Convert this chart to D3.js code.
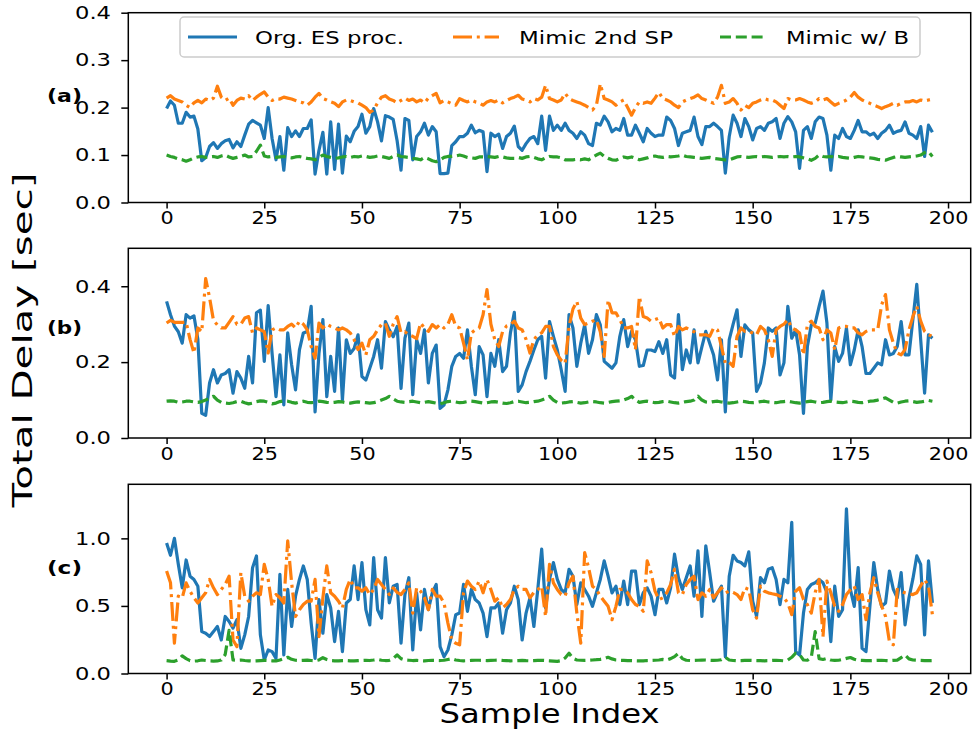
<!DOCTYPE html>
<html>
<head>
<meta charset="utf-8">
<script src="https://cdn.jsdelivr.net/npm/d3@7"></script>
<style>
  body { margin: 0; background: #fff; }
  svg { display: block; }
</style>
</head>
<body>
<div id="chart"></div>
<script>
// series values, one value per sample index (0..196)
const orgA = [
  0.198, 0.214, 0.205, 0.167, 0.167, 0.190, 0.180, 0.182, 0.155, 0.088,
  0.095, 0.118, 0.126, 0.114, 0.124, 0.130, 0.133, 0.115, 0.128, 0.118,
  0.142, 0.165, 0.173, 0.168, 0.163, 0.135, 0.200, 0.135, 0.090, 0.139,
  0.068, 0.158, 0.139, 0.151, 0.139, 0.156, 0.156, 0.174, 0.060, 0.110,
  0.148, 0.060, 0.170, 0.070, 0.165, 0.062, 0.140, 0.128, 0.150, 0.160,
  0.186, 0.146, 0.160, 0.198, 0.170, 0.130, 0.183, 0.180, 0.175, 0.130,
  0.068, 0.177, 0.173, 0.090, 0.139, 0.149, 0.167, 0.142, 0.160, 0.149,
  0.061, 0.061, 0.062, 0.120, 0.128, 0.139, 0.139, 0.146, 0.163, 0.147,
  0.152, 0.149, 0.065, 0.146, 0.139, 0.144, 0.114, 0.139, 0.146, 0.161,
  0.118, 0.110, 0.124, 0.135, 0.139, 0.124, 0.182, 0.110, 0.182, 0.152,
  0.163, 0.152, 0.167, 0.152, 0.146, 0.135, 0.149, 0.142, 0.124, 0.120,
  0.167, 0.163, 0.182, 0.170, 0.149, 0.156, 0.152, 0.177, 0.142, 0.142,
  0.163, 0.146, 0.128, 0.156, 0.146, 0.139, 0.142, 0.142, 0.180, 0.173,
  0.156, 0.120, 0.146, 0.149, 0.152, 0.180, 0.139, 0.122, 0.160, 0.160,
  0.167, 0.160, 0.152, 0.062, 0.139, 0.184, 0.167, 0.139, 0.177, 0.160,
  0.132, 0.156, 0.160, 0.152, 0.167, 0.170, 0.177, 0.135, 0.167, 0.181,
  0.170, 0.149, 0.072, 0.152, 0.160, 0.135, 0.170, 0.180, 0.177, 0.142,
  0.068, 0.142, 0.135, 0.156, 0.139, 0.135, 0.152, 0.173, 0.149, 0.149,
  0.142, 0.146, 0.135, 0.146, 0.152, 0.163, 0.146, 0.150, 0.152, 0.170,
  0.146, 0.142, 0.135, 0.160, 0.097, 0.163, 0.148
];
const mimic2ndA = [
  0.220, 0.225, 0.218, 0.215, 0.212, 0.205, 0.200, 0.210, 0.215, 0.210,
  0.218, 0.215, 0.220, 0.245, 0.222, 0.215, 0.220, 0.205, 0.215, 0.220,
  0.218, 0.225, 0.215, 0.222, 0.228, 0.233, 0.222, 0.215, 0.219, 0.218,
  0.222, 0.220, 0.218, 0.215, 0.212, 0.210, 0.205, 0.212, 0.222, 0.230,
  0.219, 0.216, 0.212, 0.209, 0.202, 0.212, 0.216, 0.215, 0.212, 0.210,
  0.205, 0.200, 0.190, 0.195, 0.210, 0.222, 0.225, 0.218, 0.215, 0.210,
  0.215, 0.220, 0.215, 0.218, 0.212, 0.216, 0.210, 0.220, 0.225, 0.230,
  0.210, 0.215, 0.212, 0.208, 0.205, 0.219, 0.215, 0.212, 0.216, 0.212,
  0.210, 0.205, 0.212, 0.215, 0.212, 0.216, 0.210, 0.215, 0.219, 0.222,
  0.226, 0.218, 0.216, 0.212, 0.219, 0.216, 0.222, 0.247, 0.219, 0.216,
  0.212, 0.216, 0.230, 0.219, 0.215, 0.212, 0.209, 0.205, 0.200, 0.195,
  0.205, 0.250, 0.219, 0.216, 0.212, 0.205, 0.212, 0.216, 0.200, 0.184,
  0.200, 0.212, 0.209, 0.212, 0.209, 0.220, 0.232, 0.219, 0.216, 0.212,
  0.205, 0.200, 0.212, 0.216, 0.219, 0.222, 0.227, 0.219, 0.216, 0.212,
  0.209, 0.222, 0.247, 0.209, 0.212, 0.219, 0.209, 0.195, 0.205, 0.200,
  0.209, 0.212, 0.216, 0.219, 0.216, 0.216, 0.212, 0.205, 0.198, 0.219,
  0.216, 0.216, 0.219, 0.216, 0.212, 0.209, 0.212, 0.219, 0.216, 0.219,
  0.212, 0.205, 0.209, 0.212, 0.216, 0.222, 0.232, 0.222, 0.216, 0.212,
  0.209, 0.205, 0.202, 0.198, 0.202, 0.205, 0.209, 0.205, 0.209, 0.212,
  0.212, 0.215, 0.212, 0.216, 0.214, 0.216, 0.218
];
const mimicBA = [
  0.100, 0.097, 0.095, 0.092, 0.090, 0.087, 0.090, 0.094, 0.096, 0.097,
  0.095, 0.096, 0.097, 0.095, 0.098, 0.100, 0.096, 0.093, 0.095, 0.097,
  0.100, 0.096, 0.097, 0.108, 0.121, 0.098, 0.096, 0.097, 0.095, 0.096,
  0.097, 0.095, 0.094, 0.096, 0.097, 0.095, 0.093, 0.092, 0.090, 0.095,
  0.100, 0.097, 0.095, 0.093, 0.094, 0.096, 0.097, 0.095, 0.097, 0.096,
  0.098, 0.097, 0.095, 0.096, 0.098, 0.097, 0.095, 0.093, 0.097, 0.100,
  0.097, 0.096, 0.095, 0.093, 0.092, 0.090, 0.095, 0.092, 0.088, 0.086,
  0.090, 0.095, 0.097, 0.097, 0.098, 0.100, 0.098, 0.095, 0.094, 0.093,
  0.096, 0.096, 0.097, 0.096, 0.095, 0.097, 0.096, 0.094, 0.093, 0.093,
  0.095, 0.093, 0.096, 0.097, 0.095, 0.092, 0.090, 0.094, 0.097, 0.096,
  0.096, 0.094, 0.090, 0.090, 0.090, 0.091, 0.090, 0.092, 0.090, 0.095,
  0.100, 0.104, 0.097, 0.093, 0.090, 0.089, 0.093, 0.096, 0.094, 0.096,
  0.093, 0.090, 0.092, 0.094, 0.097, 0.098, 0.096, 0.095, 0.097, 0.096,
  0.097, 0.098, 0.100, 0.097, 0.096, 0.095, 0.094, 0.093, 0.094, 0.095,
  0.093, 0.092, 0.091, 0.090, 0.090, 0.093, 0.096, 0.097, 0.096, 0.095,
  0.096, 0.097, 0.096, 0.097, 0.096, 0.095, 0.096, 0.097, 0.096, 0.097,
  0.096, 0.097, 0.096, 0.094, 0.092, 0.089, 0.093, 0.100, 0.097, 0.096,
  0.097, 0.096, 0.097, 0.095, 0.094, 0.093, 0.095, 0.097, 0.096, 0.095,
  0.094, 0.093, 0.091, 0.090, 0.089, 0.092, 0.095, 0.097, 0.096, 0.095,
  0.096, 0.097, 0.098, 0.100, 0.105, 0.107, 0.097
];
const orgB = [
  0.360, 0.325, 0.295, 0.280, 0.250, 0.325, 0.316, 0.322, 0.260, 0.065,
  0.060, 0.145, 0.180, 0.145, 0.166, 0.170, 0.180, 0.118, 0.175, 0.158,
  0.131, 0.215, 0.145, 0.330, 0.337, 0.202, 0.349, 0.223, 0.109, 0.219,
  0.087, 0.277, 0.193, 0.127, 0.232, 0.277, 0.281, 0.347, 0.069, 0.223,
  0.312, 0.109, 0.215, 0.123, 0.290, 0.100, 0.259, 0.223, 0.236, 0.272,
  0.162, 0.153, 0.184, 0.215, 0.259, 0.184, 0.307, 0.285, 0.267, 0.294,
  0.131, 0.263, 0.303, 0.114, 0.259, 0.223, 0.285, 0.145, 0.223, 0.245,
  0.078, 0.087, 0.127, 0.189, 0.215, 0.223, 0.210, 0.285, 0.189, 0.114,
  0.241, 0.219, 0.109, 0.223, 0.189, 0.259, 0.175, 0.189, 0.277, 0.331,
  0.123, 0.140, 0.175, 0.202, 0.232, 0.259, 0.268, 0.158, 0.307, 0.268,
  0.232, 0.180, 0.123, 0.325, 0.290, 0.189, 0.250, 0.298, 0.223, 0.259,
  0.325, 0.298, 0.202, 0.193, 0.184, 0.198, 0.268, 0.312, 0.241, 0.281,
  0.259, 0.189, 0.191, 0.232, 0.232, 0.228, 0.254, 0.223, 0.259, 0.166,
  0.158, 0.325, 0.180, 0.232, 0.198, 0.285, 0.198, 0.240, 0.281, 0.250,
  0.219, 0.153, 0.259, 0.069, 0.259, 0.300, 0.338, 0.215, 0.298, 0.285,
  0.277, 0.123, 0.145, 0.198, 0.290, 0.281, 0.290, 0.166, 0.198, 0.347,
  0.263, 0.285, 0.219, 0.065, 0.241, 0.298, 0.303, 0.347, 0.387, 0.303,
  0.100, 0.241, 0.202, 0.223, 0.290, 0.193, 0.232, 0.285, 0.241, 0.170,
  0.170, 0.184, 0.198, 0.193, 0.259, 0.219, 0.223, 0.241, 0.307, 0.219,
  0.219, 0.312, 0.405, 0.259, 0.118, 0.272, 0.263
];
const mimic2ndB = [
  0.303, 0.310, 0.305, 0.305, 0.305, 0.305, 0.260, 0.224, 0.290, 0.280,
  0.420, 0.370, 0.310, 0.298, 0.290, 0.290, 0.305, 0.320, 0.300, 0.300,
  0.316, 0.320, 0.277, 0.290, 0.285, 0.280, 0.224, 0.285, 0.290, 0.285,
  0.285, 0.294, 0.300, 0.290, 0.308, 0.300, 0.285, 0.241, 0.210, 0.303,
  0.290, 0.300, 0.294, 0.290, 0.285, 0.290, 0.285, 0.277, 0.259, 0.233,
  0.250, 0.219, 0.259, 0.268, 0.285, 0.299, 0.303, 0.268, 0.300, 0.320,
  0.277, 0.280, 0.272, 0.268, 0.262, 0.303, 0.290, 0.281, 0.299, 0.290,
  0.299, 0.290, 0.300, 0.325, 0.294, 0.290, 0.250, 0.206, 0.277, 0.285,
  0.290, 0.325, 0.391, 0.300, 0.259, 0.241, 0.281, 0.295, 0.299, 0.308,
  0.290, 0.285, 0.260, 0.224, 0.259, 0.272, 0.277, 0.294, 0.294, 0.241,
  0.219, 0.205, 0.197, 0.294, 0.340, 0.360, 0.316, 0.299, 0.303, 0.308,
  0.312, 0.280, 0.215, 0.364, 0.330, 0.330, 0.312, 0.290, 0.290, 0.294,
  0.233, 0.373, 0.320, 0.316, 0.308, 0.312, 0.316, 0.290, 0.299, 0.299,
  0.268, 0.294, 0.285, 0.290, 0.285, 0.280, 0.272, 0.272, 0.272, 0.268,
  0.290, 0.285, 0.241, 0.197, 0.200, 0.189, 0.268, 0.290, 0.281, 0.281,
  0.277, 0.272, 0.294, 0.285, 0.259, 0.215, 0.285, 0.294, 0.300, 0.312,
  0.290, 0.285, 0.277, 0.219, 0.299, 0.308, 0.294, 0.290, 0.259, 0.285,
  0.277, 0.233, 0.290, 0.294, 0.294, 0.290, 0.290, 0.277, 0.272, 0.281,
  0.285, 0.285, 0.285, 0.351, 0.378, 0.285, 0.250, 0.224, 0.219, 0.233,
  0.285, 0.320, 0.347, 0.308, 0.281, 0.272, 0.268
];
const mimicBB = [
  0.097, 0.098, 0.097, 0.094, 0.095, 0.097, 0.097, 0.095, 0.094, 0.096,
  0.100, 0.105, 0.110, 0.100, 0.094, 0.092, 0.091, 0.093, 0.096, 0.097,
  0.093, 0.090, 0.092, 0.096, 0.098, 0.097, 0.094, 0.090, 0.092, 0.096,
  0.098, 0.097, 0.094, 0.092, 0.095, 0.097, 0.094, 0.093, 0.094, 0.097,
  0.096, 0.094, 0.093, 0.094, 0.096, 0.095, 0.093, 0.092, 0.094, 0.095,
  0.094, 0.093, 0.092, 0.093, 0.096, 0.100, 0.104, 0.110, 0.103, 0.097,
  0.095, 0.094, 0.096, 0.097, 0.095, 0.093, 0.094, 0.096, 0.094, 0.092,
  0.090, 0.093, 0.096, 0.097, 0.095, 0.093, 0.094, 0.096, 0.097, 0.096,
  0.094, 0.092, 0.093, 0.095, 0.096, 0.094, 0.092, 0.091, 0.093, 0.096,
  0.097, 0.095, 0.093, 0.094, 0.096, 0.097, 0.100, 0.104, 0.110, 0.100,
  0.094, 0.092, 0.093, 0.095, 0.096, 0.094, 0.092, 0.093, 0.095, 0.096,
  0.095, 0.093, 0.092, 0.094, 0.096, 0.097, 0.098, 0.100, 0.104, 0.110,
  0.100, 0.094, 0.096, 0.097, 0.095, 0.093, 0.094, 0.096, 0.097, 0.095,
  0.093, 0.092, 0.094, 0.096, 0.097, 0.100, 0.110, 0.100, 0.095, 0.094,
  0.096, 0.097, 0.095, 0.093, 0.092, 0.093, 0.095, 0.097, 0.096, 0.094,
  0.093, 0.094, 0.096, 0.097, 0.095, 0.094, 0.093, 0.095, 0.096, 0.097,
  0.095, 0.093, 0.092, 0.094, 0.096, 0.097, 0.095, 0.093, 0.094, 0.096,
  0.097, 0.095, 0.094, 0.093, 0.095, 0.097, 0.096, 0.094, 0.093, 0.095,
  0.097, 0.098, 0.100, 0.103, 0.106, 0.100, 0.094, 0.092, 0.095, 0.097,
  0.098, 0.096, 0.094, 0.095, 0.097, 0.099, 0.097
];
const orgC = [
  0.965, 0.875, 1.000, 0.808, 0.634, 0.840, 0.720, 0.696, 0.646, 0.310,
  0.298, 0.274, 0.310, 0.348, 0.248, 0.422, 0.385, 0.336, 0.398, 0.186,
  0.286, 0.422, 0.783, 0.870, 0.286, 0.100, 0.174, 0.162, 0.112, 0.734,
  0.137, 0.622, 0.348, 0.572, 0.696, 0.796, 0.696, 0.373, 0.112, 0.547,
  0.298, 0.584, 0.485, 0.236, 0.460, 0.162, 0.522, 0.547, 0.796, 0.547,
  0.820, 0.472, 0.360, 0.857, 0.472, 0.410, 0.857, 0.522, 0.646, 0.659,
  0.224, 0.584, 0.709, 0.174, 0.597, 0.323, 0.622, 0.472, 0.597, 0.659,
  0.199, 0.124, 0.174, 0.286, 0.435, 0.447, 0.659, 0.460, 0.622, 0.547,
  0.522, 0.447, 0.273, 0.485, 0.485, 0.522, 0.298, 0.472, 0.522, 0.646,
  0.547, 0.248, 0.447, 0.560, 0.348, 0.622, 0.920, 0.485, 0.696, 0.820,
  0.696, 0.622, 0.597, 0.771, 0.720, 0.510, 0.671, 0.622, 0.572, 0.497,
  0.597, 0.696, 0.833, 0.720, 0.597, 0.646, 0.510, 0.684, 0.510, 0.758,
  0.758, 0.510, 0.597, 0.634, 0.572, 0.435, 0.622, 0.622, 0.522, 0.634,
  0.883, 0.709, 0.622, 0.709, 0.796, 0.572, 0.907, 0.423, 0.945, 0.746,
  0.535, 0.597, 0.646, 0.124, 0.720, 0.875, 0.833, 0.821, 0.796, 0.900,
  0.535, 0.423, 0.709, 0.671, 0.771, 0.783, 0.696, 0.510, 0.696, 0.671,
  1.119, 0.162, 0.137, 0.447, 0.622, 0.659, 0.671, 0.696, 0.671, 0.600,
  0.236, 0.646, 0.423, 0.472, 1.219, 0.622, 0.497, 0.783, 0.186, 0.162,
  0.497, 0.821, 0.622, 0.497, 0.522, 0.758, 0.622, 0.560, 0.746, 0.360,
  0.560, 0.700, 0.870, 0.808, 0.286, 0.833, 0.522
];
const mimic2ndC = [
  0.758, 0.671, 0.224, 0.572, 0.560, 0.671, 0.609, 0.560, 0.522, 0.560,
  0.597, 0.696, 0.634, 0.584, 0.622, 0.659, 0.720, 0.248, 0.199, 0.746,
  0.572, 0.535, 0.572, 0.597, 0.584, 0.808, 0.696, 0.497, 0.584, 0.560,
  0.522, 0.982, 0.671, 0.422, 0.472, 0.510, 0.535, 0.535, 0.696, 0.273,
  0.560, 0.796, 0.597, 0.572, 0.535, 0.485, 0.622, 0.696, 0.634, 0.634,
  0.609, 0.634, 0.584, 0.622, 0.696, 0.659, 0.622, 0.584, 0.634, 0.600,
  0.584, 0.622, 0.671, 0.447, 0.634, 0.609, 0.560, 0.472, 0.622, 0.572,
  0.572, 0.522, 0.373, 0.248, 0.224, 0.212, 0.597, 0.684, 0.646, 0.622,
  0.684, 0.597, 0.696, 0.622, 0.535, 0.560, 0.485, 0.510, 0.547, 0.622,
  0.646, 0.622, 0.622, 0.560, 0.600, 0.622, 0.646, 0.422, 0.808, 0.671,
  0.622, 0.584, 0.572, 0.671, 0.720, 0.447, 0.224, 0.895, 0.783, 0.646,
  0.622, 0.572, 0.535, 0.497, 0.398, 0.497, 0.622, 0.622, 0.597, 0.547,
  0.510, 0.497, 0.460, 0.833, 0.746, 0.609, 0.547, 0.560, 0.597, 0.659,
  0.771, 0.597, 0.584, 0.659, 0.696, 0.720, 0.547, 0.597, 0.572, 0.622,
  0.560, 0.597, 0.634, 0.597, 0.609, 0.600, 0.584, 0.547, 0.634, 0.622,
  0.472, 0.410, 0.646, 0.609, 0.597, 0.590, 0.584, 0.572, 0.560, 0.522,
  0.435, 0.609, 0.634, 0.547, 0.510, 0.447, 0.600, 0.696, 0.273, 0.684,
  0.597, 0.497, 0.460, 0.510, 0.584, 0.620, 0.646, 0.547, 0.584, 0.398,
  0.597, 0.709, 0.597, 0.500, 0.422, 0.236, 0.212, 0.622, 0.609, 0.597,
  0.590, 0.584, 0.597, 0.650, 0.696, 0.646, 0.435
];
const mimicBC = [
  0.095, 0.092, 0.090, 0.100, 0.130, 0.110, 0.095, 0.092, 0.094, 0.100,
  0.096, 0.093, 0.092, 0.093, 0.100, 0.140, 0.320, 0.100, 0.098, 0.100,
  0.096, 0.094, 0.092, 0.093, 0.095, 0.097, 0.096, 0.094, 0.093, 0.100,
  0.110, 0.120, 0.105, 0.098, 0.096, 0.097, 0.099, 0.096, 0.094, 0.100,
  0.117, 0.104, 0.096, 0.094, 0.093, 0.095, 0.096, 0.094, 0.093, 0.095,
  0.097, 0.098, 0.096, 0.100, 0.105, 0.098, 0.096, 0.097, 0.110, 0.137,
  0.110, 0.100, 0.098, 0.096, 0.097, 0.095, 0.093, 0.096, 0.098, 0.097,
  0.096, 0.098, 0.104, 0.110, 0.100, 0.096, 0.094, 0.095, 0.097, 0.098,
  0.098, 0.097, 0.096, 0.097, 0.098, 0.099, 0.097, 0.096, 0.094, 0.095,
  0.096, 0.097, 0.095, 0.094, 0.095, 0.097, 0.098, 0.096, 0.094, 0.092,
  0.090, 0.095, 0.115, 0.150, 0.112, 0.100, 0.098, 0.097, 0.098, 0.100,
  0.102, 0.105, 0.110, 0.120, 0.108, 0.100, 0.098, 0.097, 0.096, 0.095,
  0.094, 0.093, 0.094, 0.096, 0.097, 0.098, 0.100, 0.104, 0.100, 0.110,
  0.125, 0.150, 0.110, 0.098, 0.096, 0.097, 0.098, 0.099, 0.100, 0.098,
  0.097, 0.098, 0.102, 0.120, 0.100, 0.096, 0.094, 0.095, 0.097, 0.098,
  0.097, 0.096, 0.095, 0.094, 0.095, 0.097, 0.098, 0.096, 0.094, 0.100,
  0.120, 0.150, 0.140, 0.100, 0.098, 0.120, 0.310, 0.110, 0.104, 0.112,
  0.100, 0.097, 0.098, 0.104, 0.112, 0.118, 0.105, 0.098, 0.097, 0.096,
  0.095, 0.096, 0.097, 0.098, 0.096, 0.095, 0.097, 0.099, 0.118, 0.137,
  0.108, 0.100, 0.098, 0.097, 0.096, 0.095, 0.096
];

const seriesNames = ["Org. ES proc.", "Mimic 2nd SP", "Mimic w/ B"];
const panelNames = ["(a)", "(b)", "(c)"];
const xTicks = [0, 25, 50, 75, 100, 125, 150, 175, 200];
const yTicksA = [0.0, 0.1, 0.2, 0.3, 0.4];
const yTicksB = [0.0, 0.2, 0.4];
const yTicksC = [0.0, 0.5, 1.0];
const yMaxA = 0.4, yMaxB = 0.5, yMaxC = 1.4;

const width = 973, height = 755;
const left = 128.3, right = 970.7;
const font = "DejaVu Sans";
const seriesStyle = [
    { color: "#1f77b4", dash: null },
    { color: "#ff7f0e", dash: "19,4.8,3,4.8" },
    { color: "#2ca02c", dash: "11,4.8" },
];

const panels = [
    { name: panelNames[0], top: 12.7, bottom: 202.5, yMax: yMaxA, ticks: yTicksA, series: [orgA, mimic2ndA, mimicBA], labelY: 102 },
    { name: panelNames[1], top: 248.3, bottom: 438.0, yMax: yMaxB, ticks: yTicksB, series: [orgB, mimic2ndB, mimicBB], labelY: 334 },
    { name: panelNames[2], top: 484.3, bottom: 673.5, yMax: yMaxC, ticks: yTicksC, series: [orgC, mimic2ndC, mimicBC], labelY: 574 },
];

const svg = d3.select("#chart")
    .append("svg")
    .attr("width", width)
    .attr("height", height)
    .style("font-family", font);

const x = d3.scaleLinear()
    .domain([-9.8, 205.8])
    .range([left, right]);

panels.forEach(p => {
    const y = d3.scaleLinear()
        .domain([0, p.yMax])
        .range([p.bottom, p.top]);

    const g = svg.append("g");

    // lines, in legend order so green ends on top
    p.series.forEach((vals, k) => {
        const line = d3.line()
            .x((d, i) => x(i))
            .y(d => y(d));
        g.append("path")
            .datum(vals)
            .attr("d", line)
            .attr("fill", "none")
            .attr("stroke", seriesStyle[k].color)
            .attr("stroke-width", 3.2)
            .attr("stroke-linejoin", "round")
            .attr("stroke-dasharray", seriesStyle[k].dash);
    });

    // y axis
    const gy = g.append("g")
        .attr("transform", `translate(${left},0)`)
        .call(d3.axisLeft(y).tickValues(p.ticks).tickFormat(d3.format(".1f")).tickSize(7).tickPadding(10.3));
    gy.select(".domain").remove();
    gy.selectAll(".tick line").attr("stroke", "#000").attr("stroke-width", 1.5);
    gy.selectAll(".tick text")
        .attr("fill", "#000")
        .attr("font-family", font)
        .attr("font-size", 18)
        .attr("textLength", 36)
        .attr("lengthAdjust", "spacingAndGlyphs");

    // x axis
    const gx = g.append("g")
        .attr("transform", `translate(0,${p.bottom})`)
        .call(d3.axisBottom(x).tickValues(xTicks).tickFormat(d3.format("d")).tickSize(6).tickPadding(2.8));
    gx.select(".domain").remove();
    gx.selectAll(".tick line").attr("stroke", "#000").attr("stroke-width", 1.5);
    gx.selectAll(".tick text")
        .attr("fill", "#000")
        .attr("font-family", font)
        .attr("font-size", 18)
        .attr("textLength", d => 13.2 * String(d).length)
        .attr("lengthAdjust", "spacingAndGlyphs");

    // frame
    g.append("rect")
        .attr("x", left)
        .attr("y", p.top)
        .attr("width", right - left)
        .attr("height", p.bottom - p.top)
        .attr("fill", "none")
        .attr("stroke", "#000")
        .attr("stroke-width", 1.5);

    // panel tag
    svg.append("text")
        .attr("x", 47)
        .attr("y", p.labelY)
        .attr("font-size", 18)
        .attr("font-weight", "bold")
        .attr("textLength", 35)
        .attr("lengthAdjust", "spacingAndGlyphs")
        .text(p.name);
});

// legend inside panel (a)
const legend = svg.append("g");
legend.append("rect")
    .attr("x", 180)
    .attr("y", 17)
    .attr("width", 740)
    .attr("height", 40)
    .attr("rx", 4)
    .attr("fill", "#fff")
    .attr("fill-opacity", 0.8)
    .attr("stroke", "#cccccc")
    .attr("stroke-width", 1.5);

const legendPos = [
    { x0: 188, x1: 237, tx: 255, tw: 149 },
    { x0: 453, x1: 499, tx: 519, tw: 154 },
    { x0: 720, x1: 766, tx: 786, tw: 123 },
];
seriesNames.forEach((name, k) => {
    const pos = legendPos[k];
    legend.append("line")
        .attr("x1", pos.x0)
        .attr("x2", pos.x1)
        .attr("y1", 37)
        .attr("y2", 37)
        .attr("stroke", seriesStyle[k].color)
        .attr("stroke-width", 3.2)
        .attr("stroke-dasharray", seriesStyle[k].dash);
    legend.append("text")
        .attr("x", pos.tx)
        .attr("y", 43.5)
        .attr("font-size", 18)
        .attr("textLength", pos.tw)
        .attr("lengthAdjust", "spacingAndGlyphs")
        .text(name);
});

// axis titles
svg.append("text")
    .attr("x", 549.6)
    .attr("y", 723)
    .attr("text-anchor", "middle")
    .attr("font-size", 26)
    .attr("textLength", 220)
    .attr("lengthAdjust", "spacingAndGlyphs")
    .text("Sample Index");

svg.append("text")
    .attr("transform", "translate(32,340) rotate(-90)")
    .attr("text-anchor", "middle")
    .attr("font-size", 27)
    .attr("textLength", 335)
    .attr("lengthAdjust", "spacingAndGlyphs")
    .text("Total Delay [sec]");
</script>
</body>
</html>
